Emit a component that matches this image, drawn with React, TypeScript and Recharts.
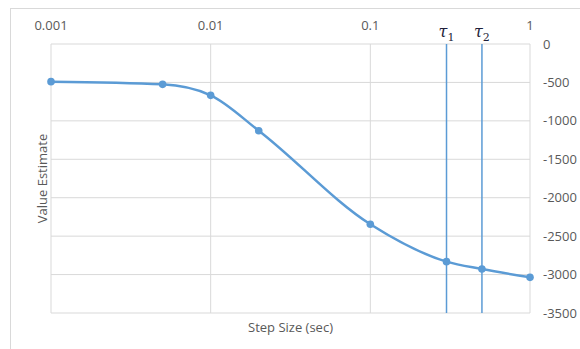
import {
  LineChart,
  Line,
  XAxis,
  YAxis,
  CartesianGrid,
  ReferenceLine,
  Label
} from 'recharts';

// ==========================================
// DATA
// ==========================================

const stepSizes = [0.001, 0.005, 0.01, 0.02, 0.1, 0.3, 0.5, 1];
const valueEstimates = [-490, -525, -668, -1128, -2346, -2832, -2928, -3036];

const xTicks = [0.001, 0.01, 0.1, 1];
const yTicks = [0, -500, -1000, -1500, -2000, -2500, -3000, -3500];

const tauMarks = [
  { x: 0.3, sub: '1' },
  { x: 0.5, sub: '2' }
];

const chartData = stepSizes.map((step, i) => ({
  step,
  value: valueEstimates[i]
}));

const BLUE = '#5b9bd5';
const GRID = '#d9d9d9';
const TEXT = '#595959';
const FONT = '"Open Sans", "Noto Sans", sans-serif';

// tau label above the reference line
const tauLabel = (sub: string) => (props: any) => {
  const x = props?.viewBox?.x ?? 0;
  return (
    <text
      x={x}
      y={37}
      textAnchor="middle"
      fill="#1f1f3a"
      fontFamily='"DejaVu Serif", serif'
      fontStyle="italic"
      fontSize={16}
    >
      τ
      <tspan dy={4} fontSize={11} fontStyle="normal">{sub}</tspan>
    </text>
  );
};

export default function App() {
  return (
    <div style={{ position: 'absolute', left: 0, top: 0, width: 580, height: 349 }}>

      {/* chart area frame (cropped at right/bottom) */}
      <div
        style={{
          position: 'absolute',
          left: 10,
          top: 8,
          width: 600,
          height: 400,
          borderLeft: `1px solid ${GRID}`,
          borderTop: `1px solid ${GRID}`
        }}
      />

      <div style={{ position: 'absolute', left: 0, top: 0 }}>
        <LineChart
          width={580}
          height={349}
          data={chartData}
          margin={{ top: 0, right: 0, bottom: 0, left: 0 }}
          style={{ fontFamily: FONT }}
        >
          <CartesianGrid
            xAxisId="top"
            yAxisId="right"
            stroke={GRID}
            strokeWidth={1}
          />

          <XAxis
            xAxisId="top"
            orientation="top"
            dataKey="step"
            type="number"
            scale="log"
            domain={[0.001, 1]}
            ticks={xTicks}
            height={44}
            axisLine={false}
            tickLine={false}
            tickSize={0}
            tickMargin={14}
            tick={{ fill: TEXT, fontSize: 13 }}
            tickFormatter={(v: number) => String(v)}
          />

          <XAxis
            xAxisId="bottom"
            orientation="bottom"
            dataKey="step"
            type="number"
            scale="log"
            domain={[0.001, 1]}
            ticks={xTicks}
            height={36}
            axisLine={false}
            tickLine={false}
            tick={false}
          >
            <Label
              value="Step Size (sec)"
              position="center"
              dy={-4}
              fill={TEXT}
              fontSize={13}
            />
          </XAxis>

          <YAxis
            yAxisId="right"
            orientation="right"
            type="number"
            domain={[-3500, 0]}
            ticks={yTicks}
            width={50}
            axisLine={false}
            tickLine={false}
            tickSize={0}
            tickMargin={13}
            tick={{ fill: TEXT, fontSize: 13, textAnchor: 'start' }}
          />

          <YAxis
            yAxisId="left"
            orientation="left"
            type="number"
            domain={[-3500, 0]}
            width={51}
            axisLine={false}
            tickLine={false}
            tick={false}
          >
            <Label
              value="Value Estimate"
              position="center"
              angle={-90}
              dx={17}
              fill={TEXT}
              fontSize={13}
            />
          </YAxis>

          {tauMarks.map((t) => (
            <ReferenceLine
              key={t.sub}
              xAxisId="top"
              yAxisId="right"
              x={t.x}
              stroke={BLUE}
              strokeWidth={1.5}
              label={tauLabel(t.sub)}
            />
          ))}

          <Line
            xAxisId="top"
            yAxisId="right"
            type="monotone"
            dataKey="value"
            stroke={BLUE}
            strokeWidth={2.5}
            dot={{ r: 3.8, fill: BLUE, stroke: BLUE, strokeWidth: 0 }}
            activeDot={false}
            isAnimationActive={false}
          />
        </LineChart>
      </div>

    </div>
  );
}
